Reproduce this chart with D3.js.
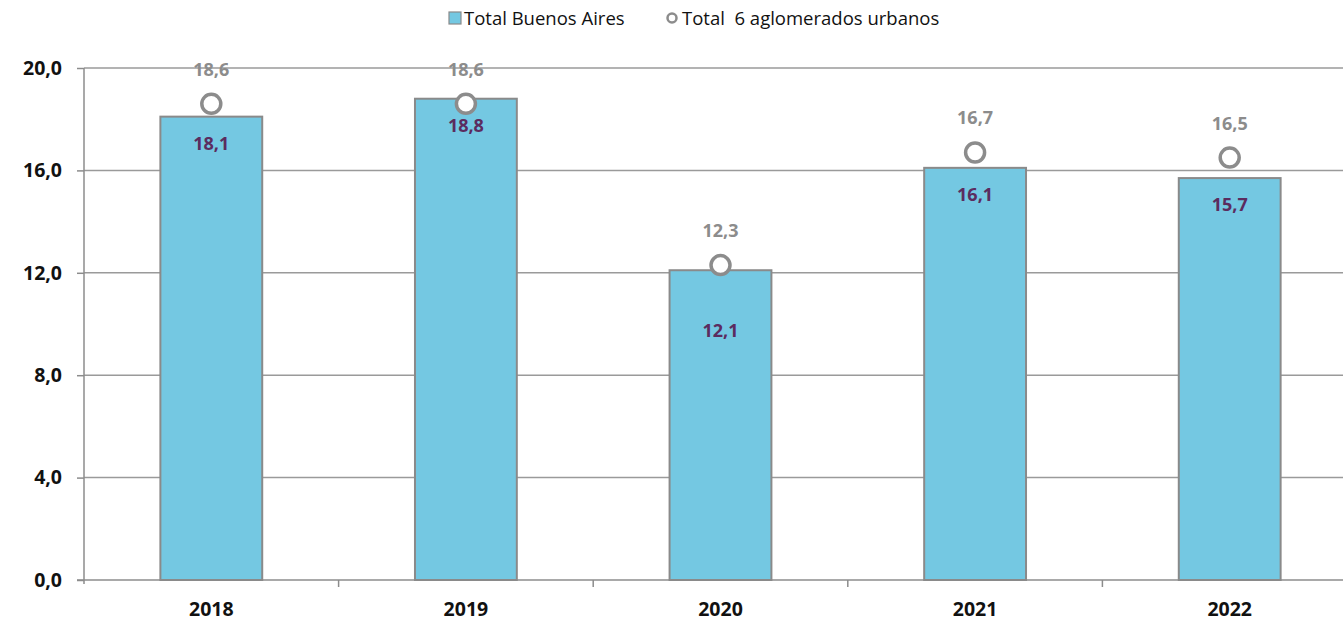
<!DOCTYPE html>
<html>
<head>
<meta charset="utf-8">
<script src="https://cdn.jsdelivr.net/npm/d3@7"></script>
<style>
body { margin: 0; background: #fff; }
text { font-family: "Open Sans", "Noto Sans", sans-serif; }
</style>
</head>
<body>
<div class="svg-container"></div>
<script>
// data
var years = ["2018", "2019", "2020", "2021", "2022"];
var buenosAires = [18.1, 18.8, 12.1, 16.1, 15.7];
var aglomerados = [18.6, 18.6, 12.3, 16.7, 16.5];
var yTicks = [0, 4, 8, 12, 16, 20];

var width = 1343, height = 624;
var plotLeft = 84, plotRight = 1357, plotTop = 68, plotBottom = 580;

var svg = d3.select(".svg-container").append("svg")
    .attr("width", width)
    .attr("height", height);

var fmt = function(v) { return d3.format(".1f")(v).replace(".", ","); };

var x = d3.scaleBand().domain(years).range([plotLeft, plotRight]).paddingInner(0.6).paddingOuter(0.3);
var xOuter = d3.scaleBand().domain(years).range([plotLeft, plotRight]);
var y = d3.scaleLinear().domain([0, 20]).range([plotBottom, plotTop]);

// gridlines
svg.append("g").selectAll("line")
    .data(yTicks.filter(function(t) { return t > 0; }))
    .enter().append("line")
    .attr("x1", plotLeft).attr("x2", width)
    .attr("y1", function(d) { return y(d); })
    .attr("y2", function(d) { return y(d); })
    .attr("stroke", "#9a9a9a")
    .attr("stroke-width", 1.5);

// Y axis
var yAxis = svg.append("g")
    .attr("transform", "translate(" + plotLeft + ",0)")
    .call(d3.axisLeft(y).tickValues(yTicks).tickFormat(fmt).tickSize(7).tickSizeOuter(0));
yAxis.select(".domain").attr("stroke", "#8c8c8c").attr("stroke-width", 1.5)
    .attr("d", "M0," + (plotBottom + 4) + "V" + plotTop);
yAxis.selectAll(".tick line").attr("stroke", "#8c8c8c").attr("stroke-width", 1.5);
yAxis.selectAll(".tick text")
    .attr("x", -22)
    .style("font-size", "19.5px").style("font-weight", "bold").attr("fill", "#111");

// X axis
var xAxis = svg.append("g")
    .attr("transform", "translate(0," + plotBottom + ")")
    .call(d3.axisBottom(x).tickSize(0).tickSizeOuter(0));
xAxis.select(".domain").remove();
xAxis.append("line").attr("x1", plotLeft - 7).attr("x2", width).attr("y1", 0).attr("y2", 0)
    .attr("stroke", "#8c8c8c").attr("stroke-width", 1.5);
xAxis.selectAll(".tick text")
    .attr("y", 22)
    .style("font-size", "19.5px").style("font-weight", "bold").attr("fill", "#111");
svg.append("g").selectAll("line")
    .data(years.slice(1))
    .enter().append("line")
    .attr("x1", function(d) { return xOuter(d); })
    .attr("x2", function(d) { return xOuter(d); })
    .attr("y1", plotBottom).attr("y2", plotBottom + 7)
    .attr("stroke", "#8c8c8c").attr("stroke-width", 1.5);

// bars
svg.append("g").selectAll("rect")
    .data(years)
    .enter().append("rect")
    .attr("x", function(d) { return x(d); })
    .attr("width", x.bandwidth())
    .attr("y", function(d, i) { return y(buenosAires[i]); })
    .attr("height", function(d, i) { return y(0) - y(buenosAires[i]); })
    .attr("fill", "#74c8e2")
    .attr("stroke", "#8a8a8a")
    .attr("stroke-width", 2);

// bar labels
svg.append("g").selectAll("text")
    .data(years)
    .enter().append("text")
    .attr("x", function(d) { return x(d) + x.bandwidth() / 2; })
    .attr("y", function(d, i) {
        var gap = aglomerados[i] - buenosAires[i];
        var off = (gap > 0 && gap < 0.3) ? 67 : 33;
        return y(buenosAires[i]) + off;
    })
    .attr("text-anchor", "middle")
    .style("font-size", "18px").style("font-weight", "bold")
    .attr("fill", "#5b2c5f")
    .text(function(d, i) { return fmt(buenosAires[i]); });

// dots
svg.append("g").selectAll("circle")
    .data(years)
    .enter().append("circle")
    .attr("cx", function(d) { return x(d) + x.bandwidth() / 2; })
    .attr("cy", function(d, i) { return y(aglomerados[i]); })
    .attr("r", 9.5)
    .attr("fill", "#fff")
    .attr("stroke", "#8c8c8c")
    .attr("stroke-width", 3.5);

// dot labels
svg.append("g").selectAll("text")
    .data(years)
    .enter().append("text")
    .attr("x", function(d) { return x(d) + x.bandwidth() / 2; })
    .attr("y", function(d, i) { return y(aglomerados[i]) - 28; })
    .attr("text-anchor", "middle")
    .style("font-size", "18px").style("font-weight", "bold")
    .attr("fill", "#8c8c8c")
    .text(function(d, i) { return fmt(aglomerados[i]); });

// legend
var legend = svg.append("g");
legend.append("rect")
    .attr("x", 449).attr("y", 12).attr("width", 12).attr("height", 12)
    .attr("fill", "#74c8e2").attr("stroke", "#8a8a8a").attr("stroke-width", 1.2);
legend.append("text")
    .attr("x", 464).attr("y", 25)
    .style("font-size", "18.5px").attr("fill", "#111")
    .text("Total Buenos Aires");
legend.append("circle")
    .attr("cx", 672).attr("cy", 18).attr("r", 4.5)
    .attr("fill", "#fff").attr("stroke", "#8c8c8c").attr("stroke-width", 2.5);
legend.append("text")
    .attr("x", 682).attr("y", 25)
    .style("font-size", "18.5px").attr("fill", "#111")
    .style("white-space", "pre")
    .text("Total  6 aglomerados urbanos");
</script>
</body>
</html>
